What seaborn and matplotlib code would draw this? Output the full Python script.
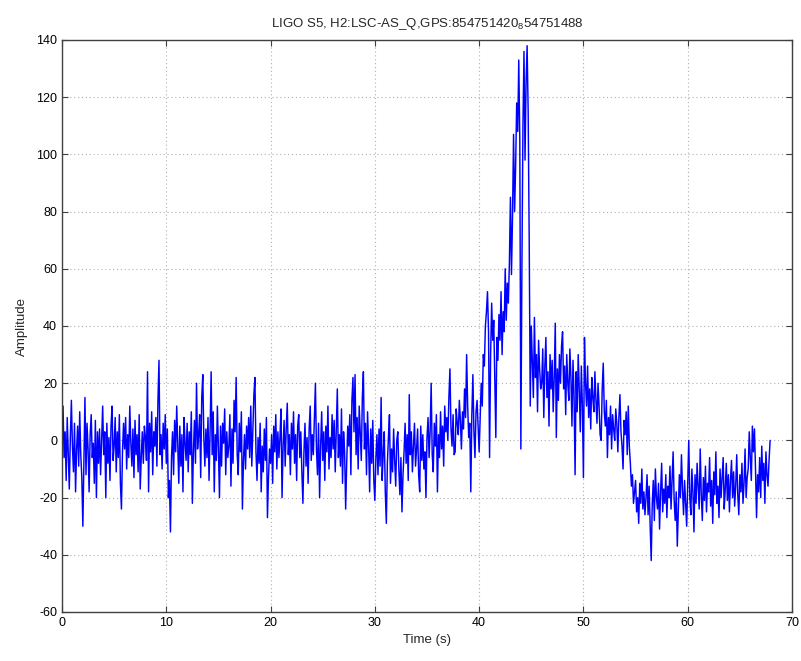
import matplotlib
matplotlib.use("Agg")
import matplotlib.pyplot as plt
import seaborn as sns
import numpy as np
import pandas as pd

title_text = r"LIGO S5, H2:LSC-AS_Q,GPS:854751420$_{8}$54751488"
x_label = "Time (s)"
y_label = "Amplitude"
x_ticks = [0, 10, 20, 30, 40, 50, 60, 70]
y_ticks = [-60, -40, -20, 0, 20, 40, 60, 80, 100, 120, 140]
sample_step = 0.1  # seconds between read-off samples

amplitude = [
    4, 12, -6, 3, -14, 8, -4, -17, 1, 14, -2, -11, 6, -18, -3, 5, -9, 10, -5, -13,
    -30, -7, 15, -12, 6, -3, -18, 2, 9, -6, -1, -15, 7, -20, 3, -8, 4, -12, 0, 12,
    -5, 3, -20, 6, -8, 1, -14, 5, 12, -7, -2, 8, -11, 3, -6, 9, -15, -24, -4, 6,
    -3, 8, -10, 2, -6, 12, -1, -9, 4, -13, 7, -5, 2, -11, 9, -17, -6, 3, -8, 5,
    1, -7, 24, -18, 6, -4, 10, -12, 3, -2, 8, -9, 14, 28, -5, 2, -10, 6, -3, 9,
    -8, 4, -20, -14, -32, -6, 3, -12, 7, -4, 12, -2, -15, 5, -9, 2, -18, 8, -1, -7,
    6, -11, 3, -5, 10, -22, -4, 7, -8, 20, -3, 2, 9, -13, 15, 23, 1, -9, 4, -6,
    8, -14, 3, 24, -5, 10, -18, 2, -7, 12, -3, -20, 5, -9, 6, -1, 11, -12, 3, -6,
    -2, 9, -16, 4, -8, 14, 3, 22, -5, -12, 6, -4, 10, -24, -7, 2, -10, 5, -3, 8,
    -6, 12, -9, 3, 16, 22, -4, -14, 1, -8, 6, -18, -2, -11, 4, -7, 8, -27, -13, -3,
    -8, 2, -15, 5, -4, 9, -10, 3, -6, 1, 11, -20, -2, 7, -9, 4, 13, -5, 2, -12,
    6, -3, 10, -8, 2, -14, 5, 9, -6, 3, -11, -22, -4, 6, -9, 1, -15, 4, 12, -7,
    2, -5, 8, 20, -3, -12, 6, -20, -2, 10, -7, 3, -14, 5, -4, 12, -10, 1, -6, 9,
    -3, 7, -11, 4, 18, -6, 2, -9, 11, -15, 3, -4, -24, -8, 5, -2, 9, -12, 14, 22,
    3, 23, -5, 8, -10, 12, 2, -7, 15, 24, -3, 6, -12, 10, -2, -18, 4, -8, 7, -14,
    -21, -6, 2, -12, 4, -9, 15, -14, -5, 3, -18, -29, -8, 1, 9, -15, -3, -11, 4, -7,
    -16, 0, 3, -10, -19, -6, -25, -12, -4, 6, -8, 2, -14, 16, -5, 3, -11, -2, 6, -9,
    -3, 4, -12, -18, 5, -7, 2, -10, -4, -20, 1, 8, -6, 3, 20, -5, -11, 6, -2, 9,
    -18, 2, -6, 10, -3, 5, -9, 12, 3, 8, 0, 15, 25, 4, -2, 9, -5, -4, 11, 6,
    2, 14, 7, -3, 10, 4, 18, 8, 30, 12, 1, 6, -18, 9, 23, 3, -6, 10, 14, 5,
    -4, 8, 20, 12, 30, 26, 40, 45, 52, 38, -6, 30, 48, 35, 42, 22, 1, 36, 28, 44,
    35, 52, 30, 45, 38, 60, 42, 55, 48, 62, 85, 58, 78, 107, 80, 96, 118, 108, 133, 105,
    -3, 60, 110, 136, 98, 125, 138, 115, 70, 12, 40, 28, 15, 43, 22, 30, 10, 35, 25, 18,
    20, 32, 8, 26, 36, 15, 24, 5, 30, 18, 28, 10, 22, 41, 1, 25, 14, 30, 20, 33,
    38, 18, 26, 9, 30, 20, 14, 32, 22, 5, 28, 16, -12, 24, 10, 30, 18, 3, 26, 12,
    -13, 36, 20, 12, 26, 8, 18, 4, 22, 15, 10, 24, 14, 6, 20, 12, 2, 0, 18, 27,
    10, 5, 14, -6, 8, 2, 12, -3, 9, 4, 0, 11, 6, -4, 8, 16, 3, -2, -10, 7,
    2, 10, -5, 12, -2, -8, -16, -12, -22, -18, -14, -25, -20, -29, -15, -22, -10, -24, -18, -26,
    -20, -12, -26, -16, -30, -42, -22, -14, -28, -10, -20, -24, -15, -31, -18, -8, -25, -17, -22, -12,
    -27, -16, -20, -9, -24, -14, -4, -21, -28, -18, -37, -25, -12, -20, -5, -17, -26, -14, -22, -30,
    -15, 0, -20, -26, -10, -18, -32, -12, -22, -8, -16, -24, -3, -19, -28, -13, -21, -9, -25, -15,
    -18, -6, -23, -14, -29, -11, -19, -4, -22, -16, -27, -10, -20, -13, -6, -24, -17, -8, -21, -12,
    -25, -14, -7, -20, -11, -23, -16, -5, -19, -26, -12, -18, -8, -22, -15, -3, -20, -13, -10, 3,
    -6, -14, 5, -4, 4, -10, -27, -12, -18, -6, -20, -2, -14, -8, -22, -4, -12, -16, -7, 0,
]

time_s = np.arange(len(amplitude)) * sample_step
df = pd.DataFrame({"time": time_s, "amplitude": amplitude})

sns.set_theme(style="ticks")
plt.rcParams["font.family"] = ["Liberation Sans", "DejaVu Sans"]
plt.rcParams["mathtext.fontset"] = "custom"
plt.rcParams["mathtext.rm"] = "Liberation Sans"
plt.rcParams["axes.unicode_minus"] = False

fig = plt.figure(figsize=(8.01, 6.61), dpi=100)
ax = fig.add_axes([62 / 801, 49 / 661, 730 / 801, 572 / 661])

sns.lineplot(data=df, x="time", y="amplitude", ax=ax, color="#0000ff",
             linewidth=1.05, estimator=None, sort=False)

ax.set_xlim(0, 70)
ax.set_ylim(-60, 140)
ax.set_xticks(x_ticks)
ax.set_yticks(y_ticks)
ax.grid(True, color="#b0b0b0", linestyle=(0, (1, 2.5)), linewidth=0.8)
ax.set_axisbelow(True)
for s in ax.spines.values():
    s.set_color("#404040")
    s.set_linewidth(1.0)
ax.tick_params(direction="in", top=True, right=True, length=4, width=0.8,
               colors="#404040", labelcolor="black", labelsize=9)
ax.set_xlabel(x_label, fontsize=9.5, labelpad=4)
ax.set_ylabel(y_label, fontsize=9.5, labelpad=6)
ax.set_title(title_text, fontsize=9.5, pad=9)

fig.savefig("out.png", dpi=100)
